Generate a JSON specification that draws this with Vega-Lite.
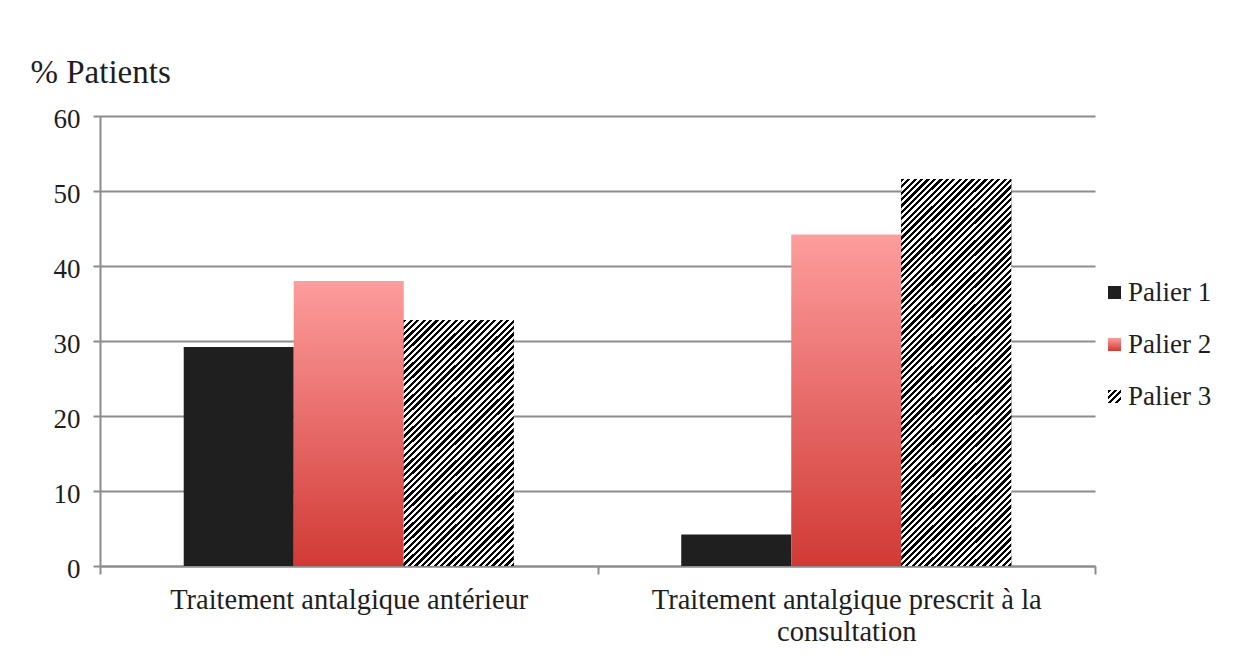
{
  "$schema": "https://vega.github.io/schema/vega-lite/v6.json",
  "width": 995,
  "height": 450,
  "autosize": "none",
  "padding": {"left": 100, "top": 116, "right": 150, "bottom": 99},
  "background": "white",
  "config": {
    "font": "Liberation Serif",
    "axis": {"labelFont": "Liberation Serif", "titleFont": "Liberation Serif"},
    "legend": {"labelFont": "Liberation Serif", "titleFont": "Liberation Serif"},
    "view": {"stroke": null}
  },
  "params": [
    {
      "name": "stripes",
      "value": [
        {"offset":0,"color":"#000"},
        {"offset":0.00625,"color":"#000"},{"offset":0.00625,"color":"#fff"},
        {"offset":0.0125,"color":"#fff"},{"offset":0.0125,"color":"#000"},
        {"offset":0.01875,"color":"#000"},{"offset":0.01875,"color":"#fff"},
        {"offset":0.025,"color":"#fff"},{"offset":0.025,"color":"#000"},
        {"offset":0.03125,"color":"#000"},{"offset":0.03125,"color":"#fff"},
        {"offset":0.0375,"color":"#fff"},{"offset":0.0375,"color":"#000"},
        {"offset":0.04375,"color":"#000"},{"offset":0.04375,"color":"#fff"},
        {"offset":0.05,"color":"#fff"},{"offset":0.05,"color":"#000"},
        {"offset":0.05625,"color":"#000"},{"offset":0.05625,"color":"#fff"},
        {"offset":0.0625,"color":"#fff"},{"offset":0.0625,"color":"#000"},
        {"offset":0.06875,"color":"#000"},{"offset":0.06875,"color":"#fff"},
        {"offset":0.075,"color":"#fff"},{"offset":0.075,"color":"#000"},
        {"offset":0.08125,"color":"#000"},{"offset":0.08125,"color":"#fff"},
        {"offset":0.0875,"color":"#fff"},{"offset":0.0875,"color":"#000"},
        {"offset":0.09375,"color":"#000"},{"offset":0.09375,"color":"#fff"},
        {"offset":0.1,"color":"#fff"},{"offset":0.1,"color":"#000"},
        {"offset":0.10625,"color":"#000"},{"offset":0.10625,"color":"#fff"},
        {"offset":0.1125,"color":"#fff"},{"offset":0.1125,"color":"#000"},
        {"offset":0.11875,"color":"#000"},{"offset":0.11875,"color":"#fff"},
        {"offset":0.125,"color":"#fff"},{"offset":0.125,"color":"#000"},
        {"offset":0.13125,"color":"#000"},{"offset":0.13125,"color":"#fff"},
        {"offset":0.1375,"color":"#fff"},{"offset":0.1375,"color":"#000"},
        {"offset":0.14375,"color":"#000"},{"offset":0.14375,"color":"#fff"},
        {"offset":0.15,"color":"#fff"},{"offset":0.15,"color":"#000"},
        {"offset":0.15625,"color":"#000"},{"offset":0.15625,"color":"#fff"},
        {"offset":0.1625,"color":"#fff"},{"offset":0.1625,"color":"#000"},
        {"offset":0.16875,"color":"#000"},{"offset":0.16875,"color":"#fff"},
        {"offset":0.175,"color":"#fff"},{"offset":0.175,"color":"#000"},
        {"offset":0.18125,"color":"#000"},{"offset":0.18125,"color":"#fff"},
        {"offset":0.1875,"color":"#fff"},{"offset":0.1875,"color":"#000"},
        {"offset":0.19375,"color":"#000"},{"offset":0.19375,"color":"#fff"},
        {"offset":0.2,"color":"#fff"},{"offset":0.2,"color":"#000"},
        {"offset":0.20625,"color":"#000"},{"offset":0.20625,"color":"#fff"},
        {"offset":0.2125,"color":"#fff"},{"offset":0.2125,"color":"#000"},
        {"offset":0.21875,"color":"#000"},{"offset":0.21875,"color":"#fff"},
        {"offset":0.225,"color":"#fff"},{"offset":0.225,"color":"#000"},
        {"offset":0.23125,"color":"#000"},{"offset":0.23125,"color":"#fff"},
        {"offset":0.2375,"color":"#fff"},{"offset":0.2375,"color":"#000"},
        {"offset":0.24375,"color":"#000"},{"offset":0.24375,"color":"#fff"},
        {"offset":0.25,"color":"#fff"},{"offset":0.25,"color":"#000"},
        {"offset":0.25625,"color":"#000"},{"offset":0.25625,"color":"#fff"},
        {"offset":0.2625,"color":"#fff"},{"offset":0.2625,"color":"#000"},
        {"offset":0.26875,"color":"#000"},{"offset":0.26875,"color":"#fff"},
        {"offset":0.275,"color":"#fff"},{"offset":0.275,"color":"#000"},
        {"offset":0.28125,"color":"#000"},{"offset":0.28125,"color":"#fff"},
        {"offset":0.2875,"color":"#fff"},{"offset":0.2875,"color":"#000"},
        {"offset":0.29375,"color":"#000"},{"offset":0.29375,"color":"#fff"},
        {"offset":0.3,"color":"#fff"},{"offset":0.3,"color":"#000"},
        {"offset":0.30625,"color":"#000"},{"offset":0.30625,"color":"#fff"},
        {"offset":0.3125,"color":"#fff"},{"offset":0.3125,"color":"#000"},
        {"offset":0.31875,"color":"#000"},{"offset":0.31875,"color":"#fff"},
        {"offset":0.325,"color":"#fff"},{"offset":0.325,"color":"#000"},
        {"offset":0.33125,"color":"#000"},{"offset":0.33125,"color":"#fff"},
        {"offset":0.3375,"color":"#fff"},{"offset":0.3375,"color":"#000"},
        {"offset":0.34375,"color":"#000"},{"offset":0.34375,"color":"#fff"},
        {"offset":0.35,"color":"#fff"},{"offset":0.35,"color":"#000"},
        {"offset":0.35625,"color":"#000"},{"offset":0.35625,"color":"#fff"},
        {"offset":0.3625,"color":"#fff"},{"offset":0.3625,"color":"#000"},
        {"offset":0.36875,"color":"#000"},{"offset":0.36875,"color":"#fff"},
        {"offset":0.375,"color":"#fff"},{"offset":0.375,"color":"#000"},
        {"offset":0.38125,"color":"#000"},{"offset":0.38125,"color":"#fff"},
        {"offset":0.3875,"color":"#fff"},{"offset":0.3875,"color":"#000"},
        {"offset":0.39375,"color":"#000"},{"offset":0.39375,"color":"#fff"},
        {"offset":0.4,"color":"#fff"},{"offset":0.4,"color":"#000"},
        {"offset":0.40625,"color":"#000"},{"offset":0.40625,"color":"#fff"},
        {"offset":0.4125,"color":"#fff"},{"offset":0.4125,"color":"#000"},
        {"offset":0.41875,"color":"#000"},{"offset":0.41875,"color":"#fff"},
        {"offset":0.425,"color":"#fff"},{"offset":0.425,"color":"#000"},
        {"offset":0.43125,"color":"#000"},{"offset":0.43125,"color":"#fff"},
        {"offset":0.4375,"color":"#fff"},{"offset":0.4375,"color":"#000"},
        {"offset":0.44375,"color":"#000"},{"offset":0.44375,"color":"#fff"},
        {"offset":0.45,"color":"#fff"},{"offset":0.45,"color":"#000"},
        {"offset":0.45625,"color":"#000"},{"offset":0.45625,"color":"#fff"},
        {"offset":0.4625,"color":"#fff"},{"offset":0.4625,"color":"#000"},
        {"offset":0.46875,"color":"#000"},{"offset":0.46875,"color":"#fff"},
        {"offset":0.475,"color":"#fff"},{"offset":0.475,"color":"#000"},
        {"offset":0.48125,"color":"#000"},{"offset":0.48125,"color":"#fff"},
        {"offset":0.4875,"color":"#fff"},{"offset":0.4875,"color":"#000"},
        {"offset":0.49375,"color":"#000"},{"offset":0.49375,"color":"#fff"},
        {"offset":0.5,"color":"#fff"},{"offset":0.5,"color":"#000"},
        {"offset":0.50625,"color":"#000"},{"offset":0.50625,"color":"#fff"},
        {"offset":0.5125,"color":"#fff"},{"offset":0.5125,"color":"#000"},
        {"offset":0.51875,"color":"#000"},{"offset":0.51875,"color":"#fff"},
        {"offset":0.525,"color":"#fff"},{"offset":0.525,"color":"#000"},
        {"offset":0.53125,"color":"#000"},{"offset":0.53125,"color":"#fff"},
        {"offset":0.5375,"color":"#fff"},{"offset":0.5375,"color":"#000"},
        {"offset":0.54375,"color":"#000"},{"offset":0.54375,"color":"#fff"},
        {"offset":0.55,"color":"#fff"},{"offset":0.55,"color":"#000"},
        {"offset":0.55625,"color":"#000"},{"offset":0.55625,"color":"#fff"},
        {"offset":0.5625,"color":"#fff"},{"offset":0.5625,"color":"#000"},
        {"offset":0.56875,"color":"#000"},{"offset":0.56875,"color":"#fff"},
        {"offset":0.575,"color":"#fff"},{"offset":0.575,"color":"#000"},
        {"offset":0.58125,"color":"#000"},{"offset":0.58125,"color":"#fff"},
        {"offset":0.5875,"color":"#fff"},{"offset":0.5875,"color":"#000"},
        {"offset":0.59375,"color":"#000"},{"offset":0.59375,"color":"#fff"},
        {"offset":0.6,"color":"#fff"},{"offset":0.6,"color":"#000"},
        {"offset":0.60625,"color":"#000"},{"offset":0.60625,"color":"#fff"},
        {"offset":0.6125,"color":"#fff"},{"offset":0.6125,"color":"#000"},
        {"offset":0.61875,"color":"#000"},{"offset":0.61875,"color":"#fff"},
        {"offset":0.625,"color":"#fff"},{"offset":0.625,"color":"#000"},
        {"offset":0.63125,"color":"#000"},{"offset":0.63125,"color":"#fff"},
        {"offset":0.6375,"color":"#fff"},{"offset":0.6375,"color":"#000"},
        {"offset":0.64375,"color":"#000"},{"offset":0.64375,"color":"#fff"},
        {"offset":0.65,"color":"#fff"},{"offset":0.65,"color":"#000"},
        {"offset":0.65625,"color":"#000"},{"offset":0.65625,"color":"#fff"},
        {"offset":0.6625,"color":"#fff"},{"offset":0.6625,"color":"#000"},
        {"offset":0.66875,"color":"#000"},{"offset":0.66875,"color":"#fff"},
        {"offset":0.675,"color":"#fff"},{"offset":0.675,"color":"#000"},
        {"offset":0.68125,"color":"#000"},{"offset":0.68125,"color":"#fff"},
        {"offset":0.6875,"color":"#fff"},{"offset":0.6875,"color":"#000"},
        {"offset":0.69375,"color":"#000"},{"offset":0.69375,"color":"#fff"},
        {"offset":0.7,"color":"#fff"},{"offset":0.7,"color":"#000"},
        {"offset":0.70625,"color":"#000"},{"offset":0.70625,"color":"#fff"},
        {"offset":0.7125,"color":"#fff"},{"offset":0.7125,"color":"#000"},
        {"offset":0.71875,"color":"#000"},{"offset":0.71875,"color":"#fff"},
        {"offset":0.725,"color":"#fff"},{"offset":0.725,"color":"#000"},
        {"offset":0.73125,"color":"#000"},{"offset":0.73125,"color":"#fff"},
        {"offset":0.7375,"color":"#fff"},{"offset":0.7375,"color":"#000"},
        {"offset":0.74375,"color":"#000"},{"offset":0.74375,"color":"#fff"},
        {"offset":0.75,"color":"#fff"},{"offset":0.75,"color":"#000"},
        {"offset":0.75625,"color":"#000"},{"offset":0.75625,"color":"#fff"},
        {"offset":0.7625,"color":"#fff"},{"offset":0.7625,"color":"#000"},
        {"offset":0.76875,"color":"#000"},{"offset":0.76875,"color":"#fff"},
        {"offset":0.775,"color":"#fff"},{"offset":0.775,"color":"#000"},
        {"offset":0.78125,"color":"#000"},{"offset":0.78125,"color":"#fff"},
        {"offset":0.7875,"color":"#fff"},{"offset":0.7875,"color":"#000"},
        {"offset":0.79375,"color":"#000"},{"offset":0.79375,"color":"#fff"},
        {"offset":0.8,"color":"#fff"},{"offset":0.8,"color":"#000"},
        {"offset":0.80625,"color":"#000"},{"offset":0.80625,"color":"#fff"},
        {"offset":0.8125,"color":"#fff"},{"offset":0.8125,"color":"#000"},
        {"offset":0.81875,"color":"#000"},{"offset":0.81875,"color":"#fff"},
        {"offset":0.825,"color":"#fff"},{"offset":0.825,"color":"#000"},
        {"offset":0.83125,"color":"#000"},{"offset":0.83125,"color":"#fff"},
        {"offset":0.8375,"color":"#fff"},{"offset":0.8375,"color":"#000"},
        {"offset":0.84375,"color":"#000"},{"offset":0.84375,"color":"#fff"},
        {"offset":0.85,"color":"#fff"},{"offset":0.85,"color":"#000"},
        {"offset":0.85625,"color":"#000"},{"offset":0.85625,"color":"#fff"},
        {"offset":0.8625,"color":"#fff"},{"offset":0.8625,"color":"#000"},
        {"offset":0.86875,"color":"#000"},{"offset":0.86875,"color":"#fff"},
        {"offset":0.875,"color":"#fff"},{"offset":0.875,"color":"#000"},
        {"offset":0.88125,"color":"#000"},{"offset":0.88125,"color":"#fff"},
        {"offset":0.8875,"color":"#fff"},{"offset":0.8875,"color":"#000"},
        {"offset":0.89375,"color":"#000"},{"offset":0.89375,"color":"#fff"},
        {"offset":0.9,"color":"#fff"},{"offset":0.9,"color":"#000"},
        {"offset":0.90625,"color":"#000"},{"offset":0.90625,"color":"#fff"},
        {"offset":0.9125,"color":"#fff"},{"offset":0.9125,"color":"#000"},
        {"offset":0.91875,"color":"#000"},{"offset":0.91875,"color":"#fff"},
        {"offset":0.925,"color":"#fff"},{"offset":0.925,"color":"#000"},
        {"offset":0.93125,"color":"#000"},{"offset":0.93125,"color":"#fff"},
        {"offset":0.9375,"color":"#fff"},{"offset":0.9375,"color":"#000"},
        {"offset":0.94375,"color":"#000"},{"offset":0.94375,"color":"#fff"},
        {"offset":0.95,"color":"#fff"},{"offset":0.95,"color":"#000"},
        {"offset":0.95625,"color":"#000"},{"offset":0.95625,"color":"#fff"},
        {"offset":0.9625,"color":"#fff"},{"offset":0.9625,"color":"#000"},
        {"offset":0.96875,"color":"#000"},{"offset":0.96875,"color":"#fff"},
        {"offset":0.975,"color":"#fff"},{"offset":0.975,"color":"#000"}
      ]
    }
  ],
  "data": {
    "values": [
      {"traitement": "Traitement antalgique antérieur", "palier": "Palier 1", "pct": 29.2},
      {"traitement": "Traitement antalgique antérieur", "palier": "Palier 2", "pct": 38.0},
      {"traitement": "Traitement antalgique antérieur", "palier": "Palier 3", "pct": 32.8},
      {"traitement": "Traitement antalgique prescrit à la consultation", "palier": "Palier 1", "pct": 4.2},
      {"traitement": "Traitement antalgique prescrit à la consultation", "palier": "Palier 2", "pct": 44.2},
      {"traitement": "Traitement antalgique prescrit à la consultation", "palier": "Palier 3", "pct": 51.6}
    ]
  },
  "encoding": {
    "x": {
      "field": "traitement",
      "type": "nominal",
      "scale": {"paddingInner": 0, "paddingOuter": 0},
      "axis": {
        "title": null,
        "labelAngle": 0,
        "labelFont": "Liberation Serif",
        "labelFontSize": 28.5,
        "labelColor": "#1e1e1e",
        "labelBaseline": "alphabetic",
        "labelPadding": 34,
        "labelLineHeight": 32,
        "labelLimit": 800,
        "labelExpr": "datum.label === 'Traitement antalgique prescrit à la consultation' ? ['Traitement antalgique prescrit à la', 'consultation'] : datum.label",
        "tickBand": "extent",
        "tickSize": 8,
        "tickWidth": 2,
        "tickColor": "#8c8c8c",
        "domainColor": "#8c8c8c",
        "domainWidth": 2
      }
    },
    "xOffset": {
      "field": "palier",
      "type": "nominal",
      "scale": {"paddingInner": 0, "paddingOuter": 0.761}
    },
    "y": {
      "field": "pct",
      "type": "quantitative",
      "scale": {"domain": [0, 60]},
      "axis": {
        "title": "% Patients",
        "titleFont": "Liberation Serif",
        "titleAngle": 0,
        "titleAlign": "left",
        "titleBaseline": "alphabetic",
        "titleX": -70,
        "titleY": -34,
        "titleFontSize": 33,
        "titleFontWeight": "normal",
        "titleColor": "#1e1e1e",
        "values": [0, 10, 20, 30, 40, 50, 60],
        "labelFont": "Liberation Serif",
        "labelFontSize": 27,
        "labelColor": "#1e1e1e",
        "labelPadding": 13,
        "labelOffset": 3,
        "tickSize": 7,
        "tickWidth": 2,
        "tickColor": "#8c8c8c",
        "domainColor": "#8c8c8c",
        "domainWidth": 2,
        "grid": true,
        "gridColor": "#8c8c8c",
        "gridWidth": 2
      }
    }
  },
  "layer": [
    {
      "mark": {"type": "bar", "strokeWidth": 0},
      "encoding": {
        "color": {
          "field": "palier",
          "type": "nominal",
          "scale": {
            "domain": ["Palier 1", "Palier 2", "Palier 3"],
            "range": [
              "#1f1f1f",
              {"expr": "{gradient: 'linear', x1: 0, y1: 0, x2: 0, y2: 1, stops: [{offset: 0, color: '#fd9d9d'}, {offset: 1, color: '#d13a35'}]}"},
              {"expr": "{gradient: 'linear', x1: 0, y1: 0, x2: 19.69, y2: 19.69, stops: stripes}"}
            ]
          },
          "legend": {
            "title": null,
            "orient": "none",
            "legendX": 1001,
            "legendY": 163,
            "padding": 0,
            "symbolType": "square",
            "symbolSize": 169,
            "symbolStrokeWidth": 0,
            "labelFont": "Liberation Serif",
            "labelFontSize": 27,
            "labelColor": "#1e1e1e",
            "labelOffset": 0,
            "rowPadding": 24
          }
        }
      }
    },
    {
      "transform": [{"filter": "datum.palier === 'Palier 3' && datum.traitement === 'Traitement antalgique antérieur'"}],
      "mark": {
        "type": "bar",
        "strokeWidth": 0,
        "fill": {"expr": "{gradient: 'linear', x1: 0, y1: 0, x2: 0.7732, y2: 1.7371, stops: stripes}"}
      }
    },
    {
      "transform": [{"filter": "datum.palier === 'Palier 3' && datum.traitement === 'Traitement antalgique prescrit à la consultation'"}],
      "mark": {
        "type": "bar",
        "strokeWidth": 0,
        "fill": {"expr": "{gradient: 'linear', x1: 0, y1: 0, x2: 0.3466, y2: 1.2249, stops: stripes}"}
      }
    }
  ]
}
